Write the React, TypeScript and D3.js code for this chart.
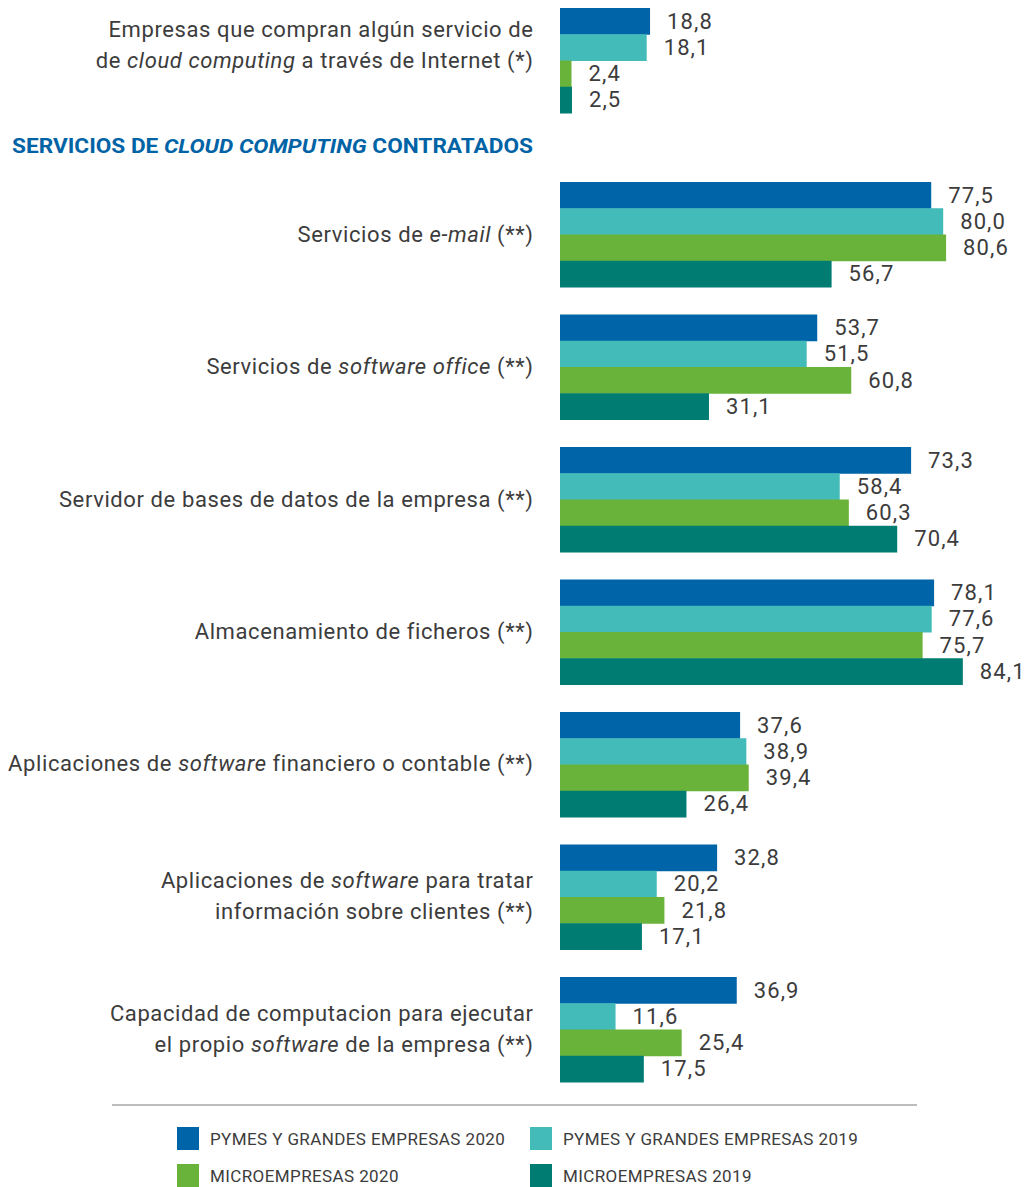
import * as d3 from "d3";

const series = [
  "PYMES Y GRANDES EMPRESAS 2020",
  "PYMES Y GRANDES EMPRESAS 2019",
  "MICROEMPRESAS 2020",
  "MICROEMPRESAS 2019",
];
const colors = ["#0064a8", "#42bbb9", "#6ab33a", "#007c73"];

// label parts: [text, italic]
const topLabel: [string, boolean][][] = [
  [["Empresas que compran algún servicio de", false]],
  [["de ", false], ["cloud computing", true], [" a través de Internet (*)", false]],
];
const topValues = [18.8, 18.1, 2.4, 2.5];

const categories: [string, boolean][][][] = [
  [[["Servicios de ", false], ["e-mail", true], [" (**)", false]]],
  [[["Servicios de ", false], ["software office", true], [" (**)", false]]],
  [[["Servidor de bases de datos de la empresa (**)", false]]],
  [[["Almacenamiento de ficheros (**)", false]]],
  [[["Aplicaciones de ", false], ["software", true], [" financiero o contable (**)", false]]],
  [
    [["Aplicaciones de ", false], ["software", true], [" para tratar", false]],
    [["información sobre clientes (**)", false]],
  ],
  [
    [["Capacidad de computacion para ejecutar", false]],
    [["el propio ", false], ["software", true], [" de la empresa (**)", false]],
  ],
];
const pymes2020 = [77.5, 53.7, 73.3, 78.1, 37.6, 32.8, 36.9];
const pymes2019 = [80.0, 51.5, 58.4, 77.6, 38.9, 20.2, 11.6];
const micro2020 = [80.6, 60.8, 60.3, 75.7, 39.4, 21.8, 25.4];
const micro2019 = [56.7, 31.1, 70.4, 84.1, 26.4, 17.1, 17.5];

const W = 1025;
const H = 1187;
const FONT = "Roboto, 'Noto Sans', sans-serif";
const TEXT = "#3c3c3c";
const LS = 0.6;

const fmt = (v: number) => v.toFixed(1).replace(".", ",");

function Label({ lines, cy, lh }: { lines: [string, boolean][][]; cy: number; lh: number }) {
  const y0 = cy - ((lines.length - 1) * lh) / 2;
  return (
    <g>
      {lines.map((parts, i) => (
        <text
          key={i}
          x={533 + LS}
          y={y0 + i * lh}
          textAnchor="end"
          dominantBaseline="central"
          fontSize={22}
          letterSpacing={LS}
          fill={TEXT}
        >
          {parts.map(([t, it], j) => (
            <tspan key={j} fontStyle={it ? "italic" : "normal"}>
              {t}
            </tspan>
          ))}
        </text>
      ))}
    </g>
  );
}

export default function App() {
  const x = d3.scaleLinear().domain([0, 100]).range([560, 1039]);
  const y = d3
    .scaleBand<number>()
    .domain(d3.range(categories.length))
    .range([182, 1082])
    .paddingInner(0.2075);
  const inner = d3.scaleBand<number>().domain([0, 1, 2, 3]).range([0, y.bandwidth()]);
  const rows = categories.map((c, i) => [pymes2020[i], pymes2019[i], micro2020[i], micro2019[i]]);

  const bars = (vals: number[], top: number, key: string) => (
    <g key={key}>
      {vals.map((v, k) => (
        <g key={k}>
          <rect
            x={x(0)}
            y={top + inner(k)!}
            width={x(v) - x(0)}
            height={inner.bandwidth() + 0.5}
            fill={colors[k]}
          />
          <text
            x={x(v) + 17}
            y={top + inner(k)! + inner.bandwidth() / 2}
            dominantBaseline="central"
            fontSize={22}
            letterSpacing={1.1}
            fill={TEXT}
          >
            {fmt(v)}
          </text>
        </g>
      ))}
    </g>
  );

  return (
    <svg width={W} height={H} style={{ position: "absolute", left: 0, top: 0 }} fontFamily={FONT}>
      <rect width={W} height={H} fill="#fff" />
      {bars(topValues, 8, "top")}
      <Label lines={topLabel} cy={44.5} lh={31} />
      <text
        x={12}
        y={146}
        dominantBaseline="central"
        fontSize={20}
        fontWeight={700}
        fill="#0063a6"
        textLength={521}
        lengthAdjust="spacingAndGlyphs"
      >
        <tspan>SERVICIOS DE </tspan>
        <tspan fontStyle="italic">CLOUD COMPUTING</tspan>
        <tspan> CONTRATADOS</tspan>
      </text>
      {rows.map((vals, i) => bars(vals, y(i)!, "g" + i))}
      {categories.map((lines, i) => (
        <Label key={i} lines={lines} cy={y(i)! + y.bandwidth() / 2 - 1} lh={31} />
      ))}
      <line x1={112} x2={917} y1={1105} y2={1105} stroke="#bdbdbd" strokeWidth={2} />
      {series.map((s, i) => {
        const lx = i % 2 === 0 ? 177 : 530;
        const ly = i < 2 ? 1127 : 1164;
        return (
          <g key={s}>
            <rect x={lx} y={ly} width={22} height={23} fill={colors[i]} />
            <text
              x={lx + 33}
              y={ly + 12}
              dominantBaseline="central"
              fontSize={17}
              letterSpacing={0.4}
              fill={TEXT}
            >
              {s}
            </text>
          </g>
        );
      })}
    </svg>
  );
}
